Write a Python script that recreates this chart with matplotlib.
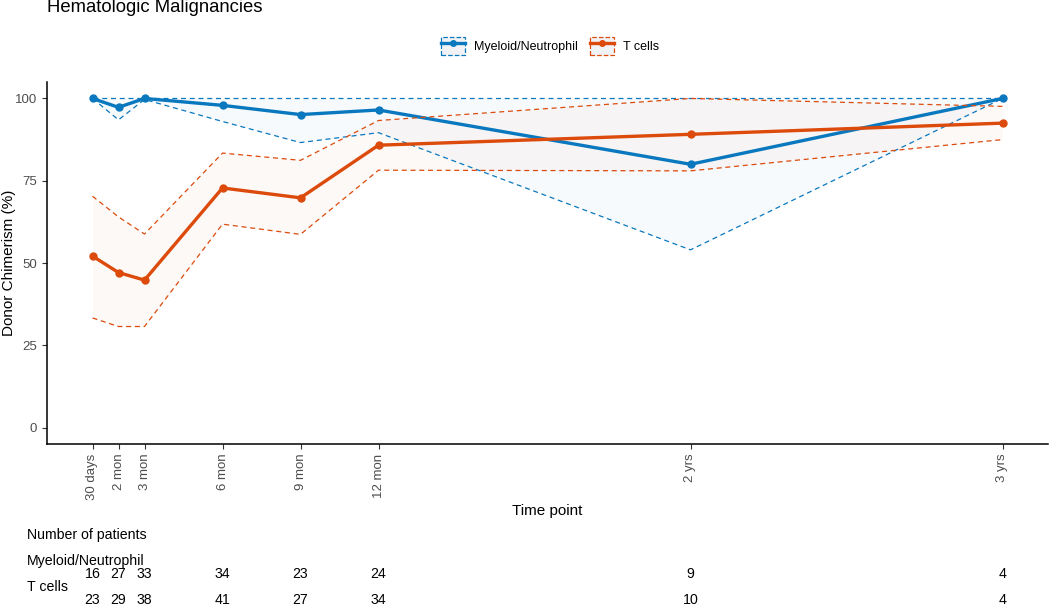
import matplotlib
matplotlib.use("Agg")
import matplotlib.pyplot as plt
import matplotlib.transforms as mtransforms
from matplotlib.lines import Line2D
from matplotlib.patches import Patch

# Time points (months) and labels
months = [1, 2, 3, 6, 9, 12, 24, 36]
tick_labels = ["30 days", "2 mon", "3 mon", "6 mon", "9 mon", "12 mon", "2 yrs", "3 yrs"]

# Myeloid/Neutrophil donor chimerism (%)
myeloid_mean = [100, 97.3, 100, 97.9, 95.1, 96.5, 80.0, 100]
myeloid_low = [100, 93.5, 99.7, 93.0, 86.6, 89.6, 54.0, 100]
myeloid_high = [100, 100, 100, 100, 100, 100, 100, 100]

# T cells donor chimerism (%)
tcell_mean = [52.1, 47.1, 44.8, 72.8, 69.8, 85.8, 89.1, 92.5]
tcell_low = [33.3, 30.7, 30.7, 61.8, 58.7, 78.2, 78.0, 87.5]
tcell_high = [70.3, 64.0, 58.8, 83.4, 81.2, 93.3, 100, 97.6]

# Number of patients at each time point
n_myeloid = [16, 27, 33, 34, 23, 24, 9, 4]
n_tcell = [23, 29, 38, 41, 27, 34, 10, 4]

BLUE = "#0A78BE"
ORANGE = "#DC4A0C"

plt.rcParams['font.family'] = ['Liberation Sans', 'DejaVu Sans']

fig = plt.figure(figsize=(10.5, 6.05), dpi=100)
ax = fig.add_axes([47 / 1050, 1 - 444 / 605, 1001 / 1050, 362 / 605])

series = [
    ("Myeloid/Neutrophil", myeloid_mean, myeloid_low, myeloid_high, BLUE),
    ("T cells", tcell_mean, tcell_low, tcell_high, ORANGE),
]

handles = []
for name, mean, low, high, col in series:
    ax.fill_between(months, low, high, color=col, alpha=0.03, linewidth=0)
    ax.plot(months, low, color=col, lw=0.9, ls=(0, (4, 3)))
    ax.plot(months, high, color=col, lw=0.9, ls=(0, (4, 3)))
    ax.plot(months, mean, color=col, lw=2.4, marker="o", ms=5)
    box = Patch(facecolor=(0.94, 0.95, 0.96), edgecolor=col, linestyle="--", linewidth=0.9)
    ln = Line2D([], [], color=col, lw=2.4, marker="o", ms=4)
    handles.append((box, ln))

ax.set_xlim(-0.75, 37.75)
ax.set_ylim(-5, 105)
ax.set_xticks(months)
ax.set_xticklabels(tick_labels, rotation=90, color="#4D4D4D", fontsize=9.5)
ax.set_yticks([0, 25, 50, 75, 100])
ax.set_yticklabels(["0", "25", "50", "75", "100"], color="#4D4D4D", fontsize=9.5)
ax.tick_params(length=3.5, width=0.8, color="#333333")
for s in ["top", "right"]:
    ax.spines[s].set_visible(False)
for s in ["left", "bottom"]:
    ax.spines[s].set_linewidth(1.1)

ax.set_xlabel("Time point", fontsize=11, labelpad=3)
ax.set_ylabel("Donor Chimerism (%)", fontsize=11)
ax.yaxis.set_label_coords(-31 / 1001, 0.5)

fig.text(47 / 1050, 1 - 8 / 605, "Hematologic Malignancies", fontsize=13.3, va="center", ha="left")

fig.legend(handles, [s[0] for s in series], loc="center", bbox_to_anchor=(550 / 1050, 1 - 46 / 605),
           ncol=2, frameon=False, fontsize=9, handlelength=1.9, handleheight=1.9,
           columnspacing=1.0, handletextpad=0.7)

# Number of patients table below the plot
fig.text(27 / 1050, 1 - 535 / 605, "Number of patients", fontsize=10.2, va="center")
fig.text(27 / 1050, 1 - 561 / 605, "Myeloid/Neutrophil", fontsize=10.2, va="center")
fig.text(27 / 1050, 1 - 587 / 605, "T cells", fontsize=10.2, va="center")
trans = mtransforms.blended_transform_factory(ax.transData, fig.transFigure)
for m, a, b in zip(months, n_myeloid, n_tcell):
    fig.text(m, 1 - 574 / 605, str(a), transform=trans, ha="center", va="center", fontsize=10.2)
    fig.text(m, 1 - 600 / 605, str(b), transform=trans, ha="center", va="center", fontsize=10.2)

fig.savefig("out.png", dpi=100)
